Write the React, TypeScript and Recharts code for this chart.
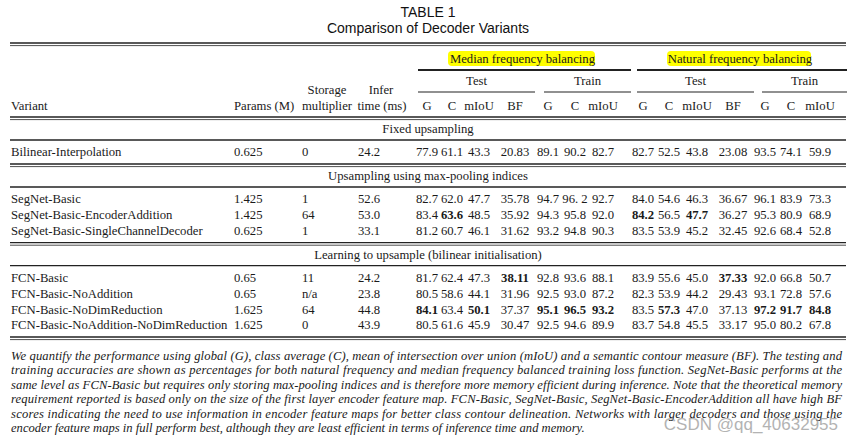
import { ScatterChart, Scatter, XAxis, YAxis, ReferenceLine, ReferenceArea } from 'recharts';

const W = 852;
const H = 441;
const SERIF = '"Liberation Serif", "DejaVu Serif", serif';
const SANS = '"Liberation Sans", Arial, sans-serif';

// ---- table content ----
const title = 'TABLE 1';
const subtitle = 'Comparison of Decoder Variants';
const groupLabels = ['Median frequency balancing', 'Natural frequency balancing'];
const splitLabels = ['Test', 'Train', 'Test', 'Train'];
const metricHeaders = ['G', 'C', 'mIoU', 'BF', 'G', 'C', 'mIoU', 'G', 'C', 'mIoU', 'BF', 'G', 'C', 'mIoU'];
const sectionTitles = [
  'Fixed upsampling',
  'Upsampling using max-pooling indices',
  'Learning to upsample (bilinear initialisation)',
];
const sectionSizes = [1, 3, 4];

const variants = [
  'Bilinear-Interpolation',
  'SegNet-Basic',
  'SegNet-Basic-EncoderAddition',
  'SegNet-Basic-SingleChannelDecoder',
  'FCN-Basic',
  'FCN-Basic-NoAddition',
  'FCN-Basic-NoDimReduction',
  'FCN-Basic-NoAddition-NoDimReduction',
];
const params = ['0.625', '1.425', '1.425', '0.625', '0.65', '0.65', '1.625', '1.625'];
const storage = ['0', '1', '64', '1', '11', 'n/a', '64', '0'];
const inferTime = ['24.2', '52.6', '53.0', '33.1', '24.2', '23.8', '44.8', '43.9'];

// '**' marks the bold (best) entries
const medianTest = [
  ['77.9', '61.1', '43.3', '20.83'],
  ['82.7', '62.0', '47.7', '35.78'],
  ['83.4', '**63.6', '48.5', '35.92'],
  ['81.2', '60.7', '46.1', '31.62'],
  ['81.7', '62.4', '47.3', '**38.11'],
  ['80.5', '58.6', '44.1', '31.96'],
  ['**84.1', '63.4', '**50.1', '37.37'],
  ['80.5', '61.6', '45.9', '30.47'],
];
const medianTrain = [
  ['89.1', '90.2', '82.7'],
  ['94.7', '96. 2', '92.7'],
  ['94.3', '95.8', '92.0'],
  ['93.2', '94.8', '90.3'],
  ['92.8', '93.6', '88.1'],
  ['92.5', '93.0', '87.2'],
  ['**95.1', '**96.5', '**93.2'],
  ['92.5', '94.6', '89.9'],
];
const naturalTest = [
  ['82.7', '52.5', '43.8', '23.08'],
  ['84.0', '54.6', '46.3', '36.67'],
  ['**84.2', '56.5', '**47.7', '36.27'],
  ['83.5', '53.9', '45.2', '32.45'],
  ['83.9', '55.6', '45.0', '**37.33'],
  ['82.3', '53.9', '44.2', '29.43'],
  ['83.5', '**57.3', '47.0', '37.13'],
  ['83.7', '54.8', '45.5', '33.17'],
];
const naturalTrain = [
  ['93.5', '74.1', '59.9'],
  ['96.1', '83.9', '73.3'],
  ['95.3', '80.9', '68.9'],
  ['92.6', '68.4', '52.8'],
  ['92.0', '66.8', '50.7'],
  ['93.1', '72.8', '57.6'],
  ['**97.2', '**91.7', '**84.8'],
  ['95.0', '80.2', '67.8'],
];

const captionLines = [
  'We quantify the performance using global (G), class average (C), mean of intersection over union (mIoU) and a semantic contour measure (BF). The testing and',
  'training accuracies are shown as percentages for both natural frequency and median frequency balanced training loss function. SegNet-Basic performs at the',
  'same level as FCN-Basic but requires only storing max-pooling indices and is therefore more memory efficient during inference. Note that the theoretical memory',
  'requirement reported is based only on the size of the first layer encoder feature map. FCN-Basic, SegNet-Basic, SegNet-Basic-EncoderAddition all have high BF',
  'scores indicating the need to use information in encoder feature maps for better class contour delineation. Networks with larger decoders and those using the',
  'encoder feature maps in full perform best, although they are least efficient in terms of inference time and memory.',
];
const watermark = 'CSDN @qq_40632955';

// ---- layout ----
const LEFT = 10;
const RIGHT = 846;
const MID = 428;
const VARIANT_X = 11;
const PARAMS_X = 234;
const STORAGE_X = 302;
const INFER_X = 358;
const METRIC_X = [427, 452, 479, 515, 548, 575, 603, 643, 669, 697, 733, 765, 791, 820];
const GROUP_SPANS = [[418, 631], [637, 847]];
const SPLIT_SPANS = [[418, 535], [544, 631], [637, 754], [762, 847]];
const ROW_STEP = 15.8;

type Kind = 'title' | 'body' | 'caption' | 'mark';
type Cell = { x: number; y: number; text: string; kind: Kind; anchor?: 'start' | 'middle' | 'end'; width?: number };

const cells: Cell[] = [];
const hLines: { y: number; x1: number; x2: number; w: number }[] = [];
const double = (y: number) => {
  hLines.push({ y, x1: LEFT, x2: RIGHT, w: 1.4 });
  hLines.push({ y: y + 2.6, x1: LEFT, x2: RIGHT, w: 0.8 });
};

cells.push({ x: MID, y: 12, text: title, kind: 'title' });
cells.push({ x: MID, y: 28, text: subtitle, kind: 'title' });
double(43);

groupLabels.forEach((g, i) => {
  const [a, b] = GROUP_SPANS[i];
  cells.push({ x: (a + b) / 2 - 2, y: 59, text: g, kind: 'body' });
  hLines.push({ y: 70, x1: a, x2: b, w: 1.8 });
});
splitLabels.forEach((s, i) => {
  const [a, b] = SPLIT_SPANS[i];
  cells.push({ x: (a + b) / 2, y: 81, text: s, kind: 'body' });
  hLines.push({ y: 92, x1: a, x2: b, w: 1.2 });
});
cells.push({ x: 327, y: 90, text: 'Storage', kind: 'body' });
cells.push({ x: 381, y: 90, text: 'Infer', kind: 'body' });
const HEAD_Y = 106;
cells.push({ x: VARIANT_X, y: HEAD_Y, text: 'Variant', kind: 'body', anchor: 'start' });
cells.push({ x: 234, y: HEAD_Y, text: 'Params (M)', kind: 'body', anchor: 'start' });
cells.push({ x: 327, y: HEAD_Y, text: 'multiplier', kind: 'body' });
cells.push({ x: 382, y: HEAD_Y, text: 'time (ms)', kind: 'body' });
metricHeaders.forEach((m, i) => cells.push({ x: METRIC_X[i], y: HEAD_Y, text: m, kind: 'body' }));
double(117);

let y = 117;
let row = 0;
sectionTitles.forEach((t, s) => {
  cells.push({ x: MID, y: y + 12, text: t, kind: 'body' });
  hLines.push({ y: y + 23, x1: LEFT, x2: RIGHT, w: 1.4 });
  let ry = y + 35;
  for (let k = 0; k < sectionSizes[s]; k++, row++) {
    cells.push({ x: VARIANT_X, y: ry, text: variants[row], kind: 'body', anchor: 'start' });
    cells.push({ x: PARAMS_X, y: ry, text: params[row], kind: 'body', anchor: 'start' });
    cells.push({ x: STORAGE_X, y: ry, text: storage[row], kind: 'body', anchor: 'start' });
    cells.push({ x: INFER_X, y: ry, text: inferTime[row], kind: 'body', anchor: 'start' });
    const vals = [...medianTest[row], ...medianTrain[row], ...naturalTest[row], ...naturalTrain[row]];
    vals.forEach((v, i) => cells.push({ x: METRIC_X[i], y: ry, text: v, kind: 'body' }));
    ry += ROW_STEP;
  }
  y = ry - ROW_STEP + 12;
  double(y);
});

captionLines.forEach((l, i) => {
  const last = i === captionLines.length - 1;
  cells.push({ x: 11, y: 356 + i * 14.4, text: l, kind: 'caption', anchor: 'start', width: last ? undefined : 831 });
});
cells.push({ x: 838, y: 424, text: watermark, kind: 'mark', anchor: 'end' });

const STYLE: Record<Kind, { family: string; size: number; dy: number; italic?: boolean; fill: string; opacity?: number }> = {
  title: { family: SANS, size: 14, dy: 5, fill: '#111' },
  body: { family: SERIF, size: 12.7, dy: 4.3, fill: '#1a1a1a' },
  caption: { family: SERIF, size: 12.6, dy: 4, italic: true, fill: '#1a1a1a' },
  mark: { family: SANS, size: 17, dy: 6, fill: '#9a9a9a', opacity: 0.75 },
};

const renderCell = (props: any) => {
  const { cx, cy, payload } = props;
  const c = payload as Cell;
  const st = STYLE[c.kind];
  let text = c.text;
  let bold = false;
  if (text.startsWith('**')) {
    bold = true;
    text = text.slice(2);
  }
  return (
    <text
      x={cx}
      y={cy + st.dy}
      textAnchor={c.anchor ?? 'middle'}
      fontFamily={st.family}
      fontSize={st.size}
      fontStyle={st.italic ? 'italic' : 'normal'}
      fontWeight={bold ? 700 : 400}
      fill={st.fill}
      opacity={st.opacity ?? 1}
      textLength={c.width}
      lengthAdjust={c.width ? 'spacing' : undefined}
      style={{ whiteSpace: 'pre' }}
    >
      {text}
    </text>
  );
};

export default function App() {
  return (
    <div style={{ position: 'absolute', left: 0, top: 0, background: '#fff' }}>
      <ScatterChart width={W} height={H} margin={{ top: 0, right: 0, bottom: 0, left: 0 }}>
        <XAxis type="number" dataKey="x" domain={[0, W]} hide allowDataOverflow />
        <YAxis type="number" dataKey="y" domain={[0, H]} reversed hide allowDataOverflow />
        <ReferenceArea x1={448} x2={595} y1={51} y2={66} fill="#ffff00" fillOpacity={1} stroke="none" radius={4} />
        <ReferenceArea x1={667} x2={811} y1={51} y2={66} fill="#ffff00" fillOpacity={1} stroke="none" radius={4} />
        {hLines.map((l, i) => (
          <ReferenceLine
            key={i}
            segment={[{ x: l.x1, y: l.y }, { x: l.x2, y: l.y }]}
            stroke="#222"
            strokeWidth={l.w}
            ifOverflow="visible"
          />
        ))}
        <Scatter data={cells} isAnimationActive={false} shape={renderCell} />
      </ScatterChart>
    </div>
  );
}
